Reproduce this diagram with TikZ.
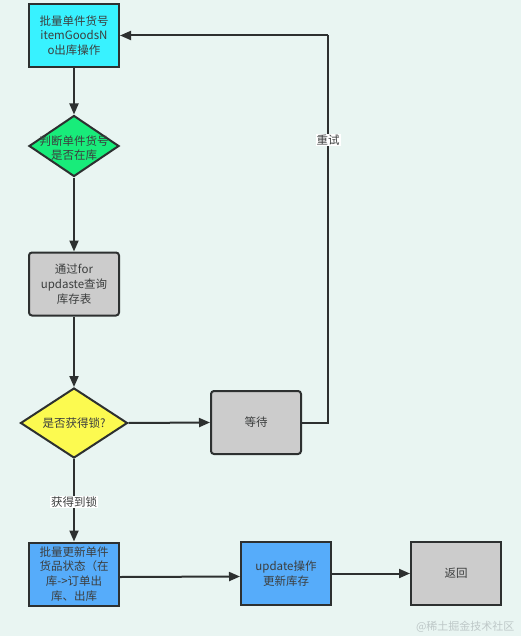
\documentclass[tikz,border=0pt]{standalone}
\usepackage{fontspec}
\setmainfont{Noto Sans CJK SC}
\usetikzlibrary{shapes.geometric,arrows.meta}
\definecolor{bgc}{RGB}{233,245,242}
\definecolor{cyanc}{RGB}{56,242,255}
\definecolor{greenc}{RGB}{24,236,122}
\definecolor{yellowc}{RGB}{252,250,80}
\definecolor{bluec}{RGB}{86,172,250}
\definecolor{grayc}{RGB}{204,204,204}
\definecolor{linec}{RGB}{45,48,48}
\definecolor{txtc}{RGB}{60,62,62}
\definecolor{wmc}{RGB}{190,200,200}
\tikzset{
  box/.style={draw=linec, line width=2pt, minimum width=90pt, minimum height=63pt,
    inner sep=0pt, align=center, text=txtc, font=\fontsize{11.5pt}{14.8pt}\selectfont},
  rbox/.style={box, rounded corners=3pt},
  dia/.style={draw=linec, line width=2pt, shape=diamond, inner sep=0pt},
  conn/.style={draw=linec, line width=2pt, -{Triangle[length=11pt,width=9pt]}},
  lbl/.style={fill=white, inner sep=1pt, text=txtc, font=\fontsize{11.5pt}{13pt}\selectfont}
}
\begin{document}
\begin{tikzpicture}[x=1pt,y=-1pt]
\fill[bgc] (0,0) rectangle (521,636);
\useasboundingbox (0,0) rectangle (521,636);

\node[box, fill=cyanc] (b1) at (74,35.5) {批量单件货号\\itemGoodsN\\o出库操作};
\node[dia, fill=greenc, minimum width=90pt, minimum height=61pt,
  label={[align=center, text=txtc, font=\fontsize{11.5pt}{13.5pt}\selectfont, yshift=-2pt]center:判断单件货号\\是否在库}] (d1) at (74,146) {};
\node[rbox, fill=grayc] (b3) at (74,284) {通过for\\updaste查询\\库存表};
\node[dia, fill=yellowc, minimum width=107pt, minimum height=70pt,
  label={[text=txtc, font=\fontsize{11.5pt}{13pt}\selectfont]center:是否获得锁?}] (d2) at (74,423) {};
\node[rbox, fill=grayc] (w) at (256,422.5) {等待};
\node[box, fill=bluec, font=\fontsize{11.5pt}{14.8pt}\selectfont] (b5) at (74,574) {批量更新单件\\货品状态（在\\库->订单出\\库、出库};
\node[box, fill=bluec] (b6) at (286,573.5) {update操作\\更新库存};
\node[box, fill=grayc] (b7) at (456,573.5) {返回};

\coordinate (c1) at (328,422.5);
\coordinate (c2) at (328,35.5);

\draw[conn] (b1) -- (d1);
\draw[conn] (d1) -- (b3);
\draw[conn] (b3) -- (d2);
\draw[conn] (d2.east) -- (w.west);
\draw[draw=linec, line width=2pt] (w.east) -- (c1) -- (c2);
\draw[conn] (c2) -- (b1.east);
\node[lbl] (l1) at (328,140) {重试};
\draw[conn] (d2.south) -- (b5.north);
\node[lbl] (l2) at (74,502) {获得到锁};
\draw[conn] ([yshift=-3pt]b5.east) -- ([yshift=-3pt]b6.west);
\draw[conn] (b6.east) -- (b7.west);

\node[text=wmc, font=\fontsize{11pt}{13pt}\selectfont, anchor=east] (wm) at (518,627) {@稀土掘金技术社区};
\end{tikzpicture}
\end{document}
